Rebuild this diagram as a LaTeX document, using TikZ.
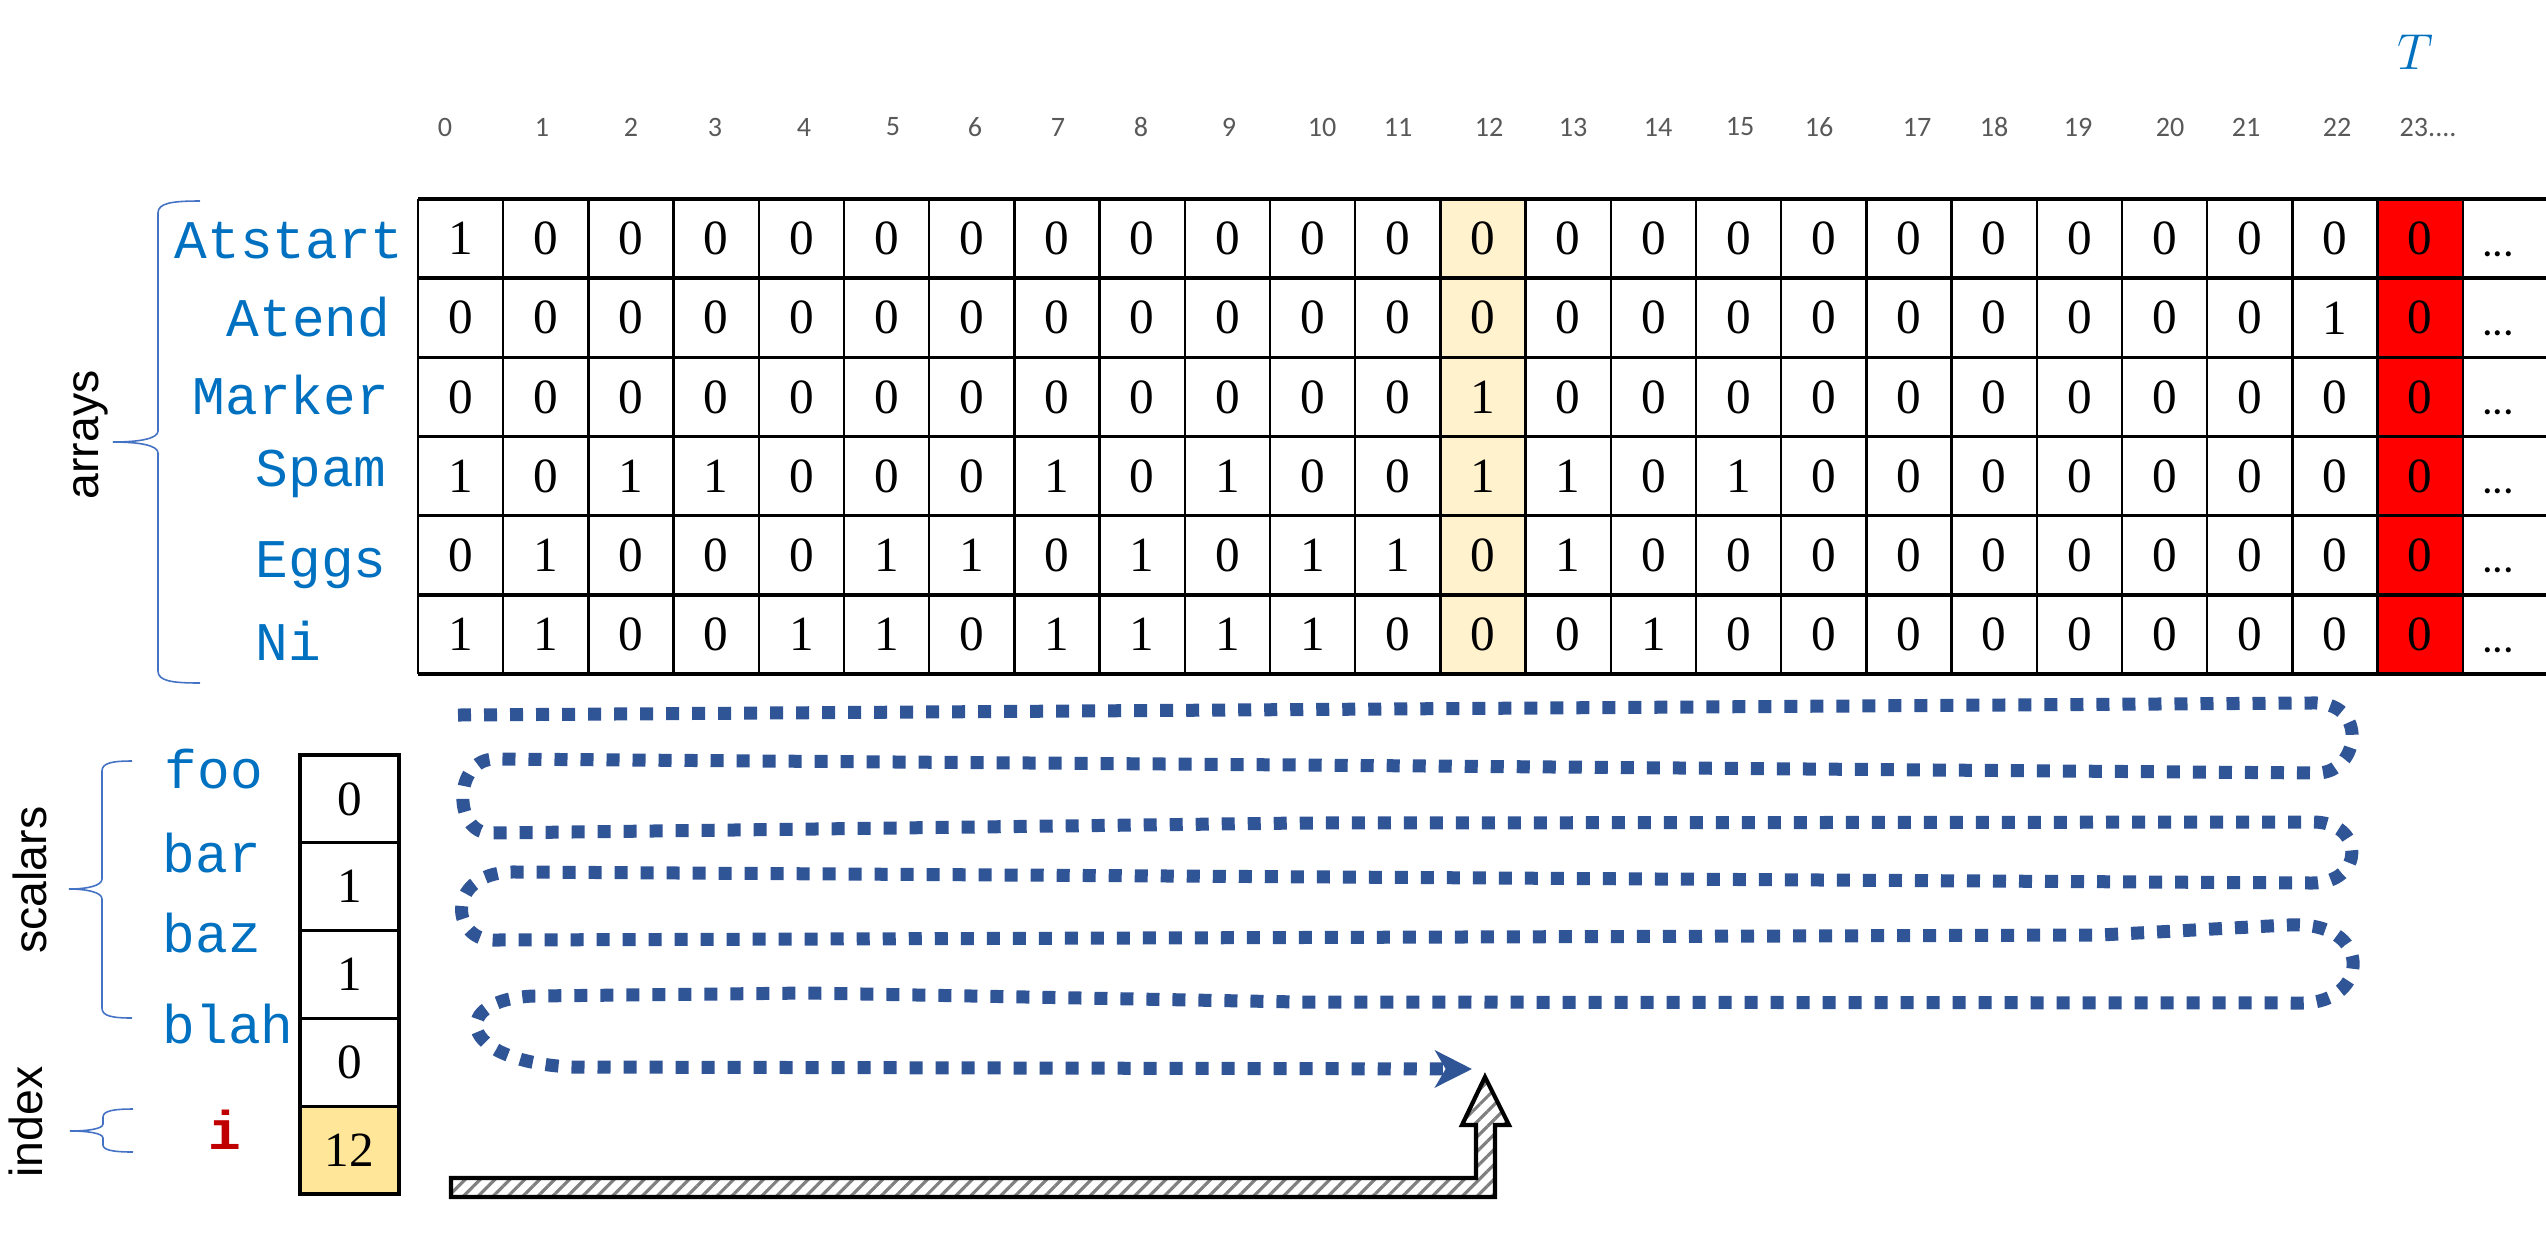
\documentclass[tikz,border=0pt]{standalone}
\usepackage{fontspec}
\newfontfamily\monof{Liberation Mono}
\newfontfamily\sansf{Liberation Sans}
\newfontfamily\calf{Carlito}
\newfontfamily\seriff{Liberation Serif}
\usetikzlibrary{arrows.meta,patterns.meta}
\definecolor{lblue}{HTML}{0070C0}
\definecolor{pathblue}{HTML}{2F5597}
\definecolor{bcol}{HTML}{4472C4}
\definecolor{hgray}{HTML}{595959}
\definecolor{cream}{HTML}{FFF2CC}
\definecolor{gold}{HTML}{FFE699}
\definecolor{darkred}{HTML}{C00000}
\begin{document}
\begin{tikzpicture}[x=0.1mm,y=-0.1mm,
  lbl/.style={font=\monof\fontsize{15.5}{18}\selectfont, text=lblue, inner sep=0pt, anchor=base west},
  cellv/.style={font=\seriff\fontsize{14}{16}\selectfont, inner sep=0pt},
  hdr/.style={font=\calf\fontsize{8}{10}\selectfont, text=hgray, inner sep=0pt},
  grp/.style={font=\sansf\fontsize{13.2}{15}\selectfont, rotate=90, inner sep=0pt, anchor=base},
  dotsty/.style={font=\calf\fontsize{12}{14}\selectfont, inner sep=0pt, anchor=base},
  sbox/.style={draw, line width=0.9pt, minimum width=9.9mm, minimum height=8.78mm, inner sep=0pt, outer sep=0pt, font=\seriff\fontsize{14}{16}\selectfont},
  bracel/.style={draw=bcol, line width=0.45pt},
  flow/.style={draw=pathblue, line width=3.7pt, dash pattern=on 3.7pt off 3.7pt, -{Stealth[length=10.5pt,width=10.5pt,inset=3pt,fill=pathblue]}},
  blockarrow/.style={draw, line width=1.2pt, pattern={Lines[angle=45,distance=3pt,line width=0.9pt]}, pattern color=gray, line join=miter},
]
\useasboundingbox (0,0) rectangle (2546,1242);

% highlighted columns
\fill[cream] (1440.4,199) rectangle (1525.6,674);
\fill[red] (2377.6,199) rectangle (2462.8,674);

% grid lines
\foreach \k in {0,...,24}{
  \pgfmathsetmacro\gx{418+\k*85.2}
  \draw[line width=0.7pt] (\gx,199) -- (\gx,674);
}
\foreach \gy in {199,278.2,357.3,436.5,515.7,594.8,674}{
  \draw[line width=1pt] (418,\gy) -- (2546,\gy);
}

% cell values
\foreach \r/\vals in {
  1/{1,0,0,0,0,0,0,0,0,0,0,0,0,0,0,0,0,0,0,0,0,0,0,0},
  2/{0,0,0,0,0,0,0,0,0,0,0,0,0,0,0,0,0,0,0,0,0,0,1,0},
  3/{0,0,0,0,0,0,0,0,0,0,0,0,1,0,0,0,0,0,0,0,0,0,0,0},
  4/{1,0,1,1,0,0,0,1,0,1,0,0,1,1,0,1,0,0,0,0,0,0,0,0},
  5/{0,1,0,0,0,1,1,0,1,0,1,1,0,1,0,0,0,0,0,0,0,0,0,0},
  6/{1,1,0,0,1,1,0,1,1,1,1,0,0,0,1,0,0,0,0,0,0,0,0,0}}{
  \pgfmathsetmacro\cy{199+(\r-0.5)*79.17}
  \foreach \v [count=\kk from 0] in \vals {
    \pgfmathsetmacro\cx{418+(\kk+0.5)*85.2}
    \node[cellv] (c\r-\kk) at (\cx,\cy) {\v};
  }
  \pgfmathsetmacro\dy{199+\r*79.17-22}
  \node[dotsty] (d\r) at (2498,\dy) {...};
}

% column headers
\foreach \n/\hx in {0/445,1/542,2/631,3/715,4/804,5/893,6/975,7/1058,8/1141,9/1229,10/1322,11/1398,12/1489,13/1573,14/1658,15/1740,16/1819,17/1917,18/1994,19/2078,20/2170,21/2246,22/2337}{
  \node[hdr] (h\n) at (\hx,127) {\n};
}
\node[hdr, anchor=west] (h23) at (2399,127) {23....};
\node[text=lblue, inner sep=0pt, font=\fontsize{15}{18}\selectfont] (T) at (2415,52) {$T$};

% array labels
\node[lbl] (lAtstart) at (174,258) {Atstart};
\node[lbl] (lAtend) at (226,336) {Atend};
\node[lbl] (lMarker) at (192,414) {Marker};
\node[lbl] (lSpam) at (255,486) {Spam};
\node[lbl] (lEggs) at (255,577) {Eggs};
\node[lbl] (lNi) at (255,660) {Ni};

% group labels
\node[grp] (garrays) at (98,435) {arrays};
\node[grp] (gscalars) at (46,880) {scalars};
\node[grp] (gindex) at (43,1122) {index};

% braces
\draw[bracel] (200,201) .. controls (172,201) and (158,203) .. (158,213) -- (158,431) .. controls (158,439) and (138,442) .. (113,442) .. controls (138,442) and (158,445) .. (158,453) -- (158,671) .. controls (158,681) and (172,683) .. (200,683);
\draw[bracel] (132,761) .. controls (112,761) and (102,763) .. (102,771) -- (102,879) .. controls (102,886) and (86,889) .. (69,889) .. controls (86,889) and (102,892) .. (102,899) -- (102,1008) .. controls (102,1016) and (112,1018) .. (132,1018);
\draw[bracel] (133,1109) .. controls (113,1109) and (103,1111) .. (103,1117) -- (103,1124) .. controls (103,1129) and (87,1131) .. (70,1131) .. controls (87,1131) and (103,1133) .. (103,1138) -- (103,1145) .. controls (103,1150) and (113,1152) .. (133,1152);

% scalar labels and boxes
\node[lbl] (lfoo) at (164,788) {foo};
\node[lbl] (lbar) at (162,872) {bar};
\node[lbl] (lbaz) at (162,952) {baz};
\node[lbl] (lblah) at (162,1043) {blah};
\node[font=\monof\bfseries\fontsize{15.5}{18}\selectfont, text=darkred, inner sep=0pt, anchor=base] (li) at (225,1149) {i};

\node[sbox] (sfoo) at (349.5,798.9) {0};
\node[sbox] (sbar) at (349.5,886.7) {1};
\node[sbox] (sbaz) at (349.5,974.5) {1};
\node[sbox] (sblah) at (349.5,1062.3) {0};
\node[sbox, fill=gold] (si) at (349.5,1150.1) {12};

% serpentine scan path
\draw[flow] (458,715) -- (2310,703)
  .. controls (2370,700) and (2360,773) .. (2317,773)
  -- (1300,765) -- (495,759)
  .. controls (453,759) and (453,833) .. (490,833)
  -- (1300,823) -- (2313,822)
  .. controls (2365,822) and (2365,883) .. (2312,883)
  -- (517,872)
  .. controls (445,870) and (450,940) .. (493,940)
  -- (2100,935) -- (2288,925)
  .. controls (2375,920) and (2370,1003) .. (2302,1003)
  -- (1300,1002) -- (808,993) -- (533,996)
  .. controls (450,1000) and (455,1060) .. (570,1067)
  -- (1472,1069);

% index block arrow
\draw[blockarrow] (451,1178) -- (1476,1178) -- (1476,1125) -- (1462,1125) -- (1485,1077) -- (1509,1125) -- (1495,1125) -- (1495,1197) -- (451,1197) -- cycle;
\end{tikzpicture}
\end{document}
